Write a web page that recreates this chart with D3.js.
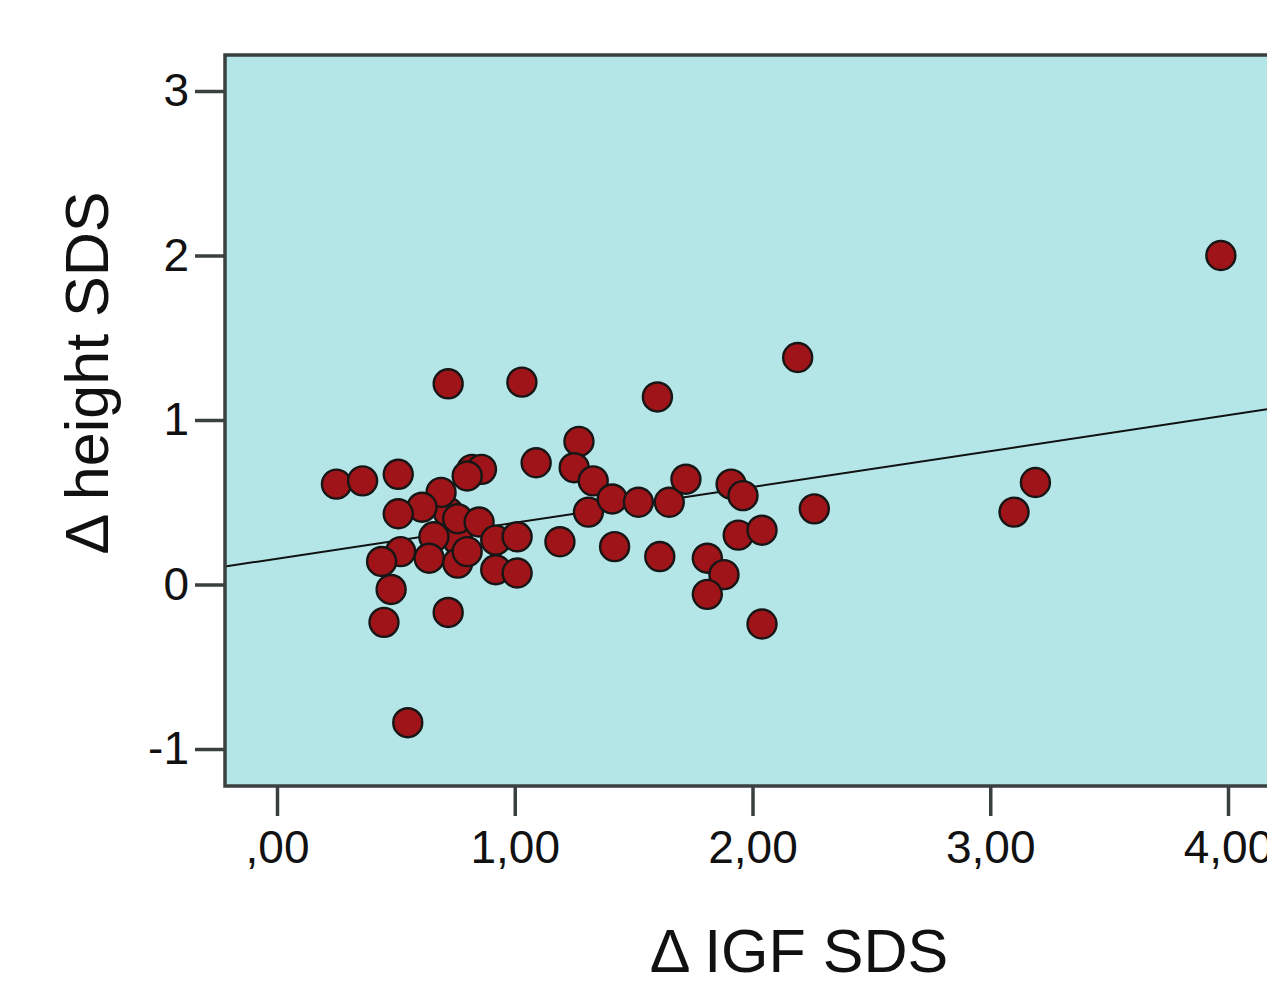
<!DOCTYPE html>
<html>
<head>
<meta charset="utf-8">
<script src="https://cdn.jsdelivr.net/npm/d3@7"></script>
<style>
  body { margin: 0; background: #fff; }
  svg { display: block; }
  text { font-family: "Liberation Sans", Arial, sans-serif; fill: #111; }
</style>
</head>
<body>
<div id="chart"></div>
<script>
// data (delta IGF SDS vs delta height SDS)
const igfSds = [0.72, 0.76, 0.25, 0.36, 0.51, 0.72, 1.03, 1.27, 0.82, 0.86, 0.80, 1.09, 1.25, 1.33, 1.31, 1.41,
  1.52, 1.65, 1.72, 1.91, 1.96, 2.26, 0.69, 0.61, 0.51, 0.76, 0.85, 0.92, 1.01, 1.19, 0.66, 0.52,
  0.44, 0.64, 0.76, 0.80, 0.92, 1.01, 0.48, 0.45, 0.72, 0.55, 1.60, 2.19, 1.42, 1.61, 1.94, 2.04,
  1.81, 1.88, 1.81, 2.04, 3.97, 3.19, 3.10];
const heightSds = [0.44, 0.27, 0.61, 0.63, 0.67, 1.22, 1.23, 0.87, 0.70, 0.70, 0.66, 0.74, 0.71, 0.63, 0.44, 0.52,
  0.50, 0.50, 0.64, 0.61, 0.54, 0.46, 0.56, 0.47, 0.43, 0.40, 0.38, 0.27, 0.29, 0.26, 0.29, 0.20,
  0.14, 0.16, 0.13, 0.20, 0.09, 0.07, -0.03, -0.23, -0.17, -0.84, 1.14, 1.38, 0.23, 0.17, 0.30, 0.33,
  0.16, 0.06, -0.06, -0.24, 2.00, 0.62, 0.44];

const xTicks = [0, 1, 2, 3, 4];
const xTickLabels = [",00", "1,00", "2,00", "3,00", "4,00"];
const yTicks = [-1, 0, 1, 2, 3];
const yTickLabels = ["-1", "0", "1", "2", "3"];

// fit line (linear regression shown in the picture)
const fitIntercept = 0.157;
const fitSlope = 0.218;

const width = 1267;
const height = 985;
const plot = { left: 225, top: 55, right: 1320, bottom: 786 };

const svg = d3.select("#chart").append("svg")
  .attr("width", width)
  .attr("height", height);

const x = d3.scaleLinear().domain([0, 4]).range([277, 1228]);
const y = d3.scaleLinear().domain([-1, 3]).range([749, 91]);

svg.append("clipPath").attr("id", "plotClip")
  .append("rect")
  .attr("x", plot.left).attr("y", plot.top)
  .attr("width", plot.right - plot.left).attr("height", plot.bottom - plot.top);

// background
svg.append("rect")
  .attr("x", plot.left).attr("y", plot.top)
  .attr("width", plot.right - plot.left).attr("height", plot.bottom - plot.top)
  .attr("fill", "#b4e5e7");

const inner = svg.append("g").attr("clip-path", "url(#plotClip)");

// regression line
const xLo = x.invert(plot.left), xHi = x.invert(plot.right);
inner.append("line")
  .attr("x1", x(xLo)).attr("y1", y(fitIntercept + fitSlope * xLo))
  .attr("x2", x(xHi)).attr("y2", y(fitIntercept + fitSlope * xHi))
  .attr("stroke", "#111")
  .attr("stroke-width", 2);

// points
inner.selectAll("circle")
  .data(igfSds.map((v, i) => [v, heightSds[i]]))
  .join("circle")
  .attr("cx", d => x(d[0]))
  .attr("cy", d => y(d[1]))
  .attr("r", 14.5)
  .attr("fill", "#9e1418")
  .attr("stroke", "#161616")
  .attr("stroke-width", 2.4);

// frame
svg.append("rect")
  .attr("x", plot.left).attr("y", plot.top)
  .attr("width", plot.right - plot.left).attr("height", plot.bottom - plot.top)
  .attr("fill", "none")
  .attr("stroke", "#3a3f40")
  .attr("stroke-width", 3.5);

// y axis
const yAxis = svg.append("g")
  .attr("transform", `translate(${plot.left},0)`)
  .call(d3.axisLeft(y).tickValues(yTicks).tickSize(30).tickPadding(6)
    .tickFormat((d, i) => yTickLabels[i]));
yAxis.select(".domain").remove();
yAxis.selectAll(".tick line").attr("stroke", "#3a3f40").attr("stroke-width", 3.5);
yAxis.selectAll(".tick text")
  .style("font-family", "'Liberation Sans', Arial, sans-serif")
  .style("font-size", "46px")
  .attr("fill", "#111");

// x axis
const xAxis = svg.append("g")
  .attr("transform", `translate(0,${plot.bottom})`)
  .call(d3.axisBottom(x).tickValues(xTicks).tickSize(30).tickPadding(14)
    .tickFormat((d, i) => xTickLabels[i]));
xAxis.select(".domain").remove();
xAxis.selectAll(".tick line").attr("stroke", "#3a3f40").attr("stroke-width", 3.5);
xAxis.selectAll(".tick text")
  .style("font-family", "'Liberation Sans', Arial, sans-serif")
  .style("font-size", "46px")
  .attr("fill", "#111");

// axis titles
svg.append("text")
  .attr("x", 799).attr("y", 972)
  .attr("text-anchor", "middle")
  .style("font-size", "61px")
  .text("Δ IGF SDS");

svg.append("text")
  .attr("transform", "translate(108,373) rotate(-90)")
  .attr("text-anchor", "middle")
  .style("font-size", "61px")
  .text("Δ height SDS");
</script>
</body>
</html>
